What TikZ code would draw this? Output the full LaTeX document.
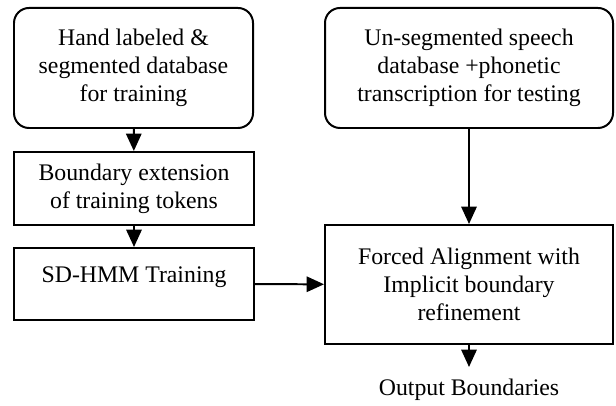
\documentclass[tikz,border=0pt]{standalone}
\usepackage{fontspec}
\setmainfont{Liberation Serif}
\usetikzlibrary{arrows.meta,positioning}

\begin{document}
\begin{tikzpicture}[
    box/.style={draw=black, line width=1.7pt, align=center, inner sep=0pt, font=\fontsize{20.3}{23.9}\selectfont},
    roundbox/.style={box, rounded corners=0.45cm},
    flow/.style={-{Triangle[length=0.52cm, width=0.46cm]}, line width=1.7pt}
]
        \useasboundingbox (0,0) rectangle (18.48,12.15);

        % Training side
        \node[roundbox, minimum width=7.17cm, minimum height=3.6cm] at (4.005,10.11) (handdb) {Hand labeled \&\\segmented database\\for training};
        \node[box, minimum width=7.2cm, minimum height=2.19cm] at (4.02,6.495) (extend) {Boundary extension\\of training tokens};
        \node[box, minimum width=7.2cm, minimum height=2.16cm] at (4.02,3.63) (sdhmm) {SD-HMM Training\\[-0.3cm]\mbox{}};

        % Testing side
        \node[roundbox, minimum width=8.64cm, minimum height=3.6cm] at (14.07,10.11) (speechdb) {Un-segmented speech\\database +phonetic\\transcription for testing};
        \node[box, minimum width=8.64cm, minimum height=3.57cm] at (14.07,3.615) (forced) {Forced Alignment with\\Implicit boundary\\refinement};
        \node[font=\fontsize{20.3}{23.9}\selectfont, inner sep=0.36cm] at (14.07,0.45) (output) {Output Boundaries};

        \draw[flow] (handdb) -- (extend);
        \draw[flow] (extend) -- (sdhmm);
        \draw[flow] (sdhmm) -- (forced);
        \draw[flow] (speechdb) -- (forced);
        \draw[flow] (forced) -- (output);

    \end{tikzpicture}
\end{document}
